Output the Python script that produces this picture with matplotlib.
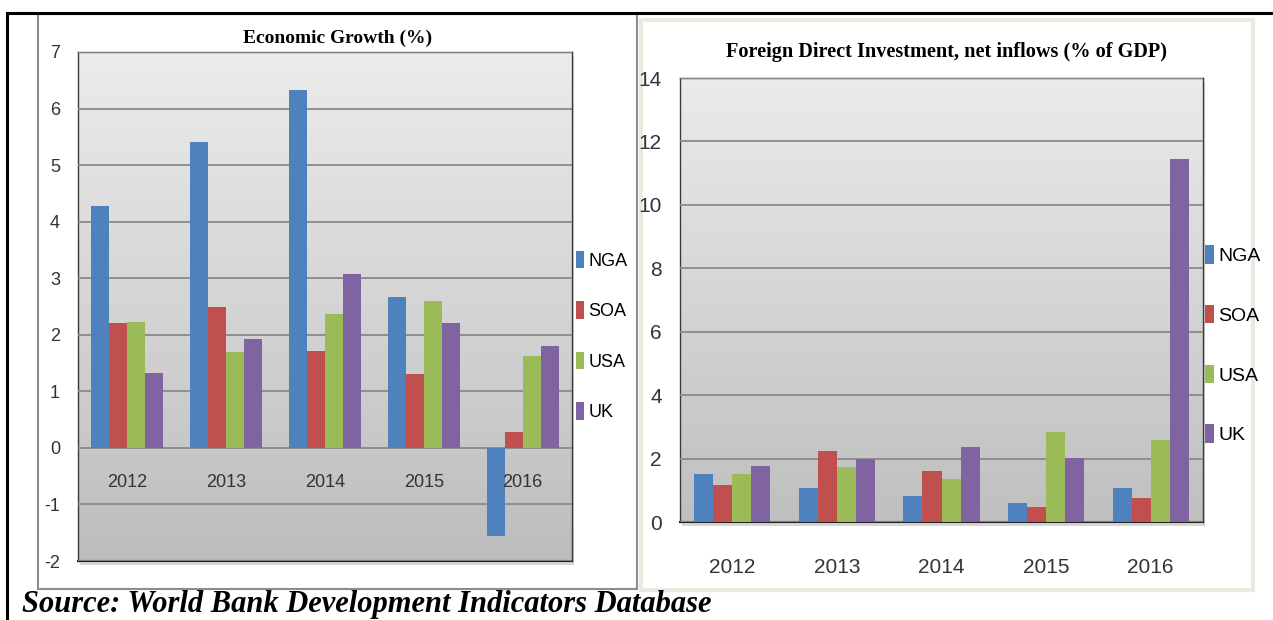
import numpy as np
import matplotlib
matplotlib.use("Agg")
import matplotlib.pyplot as plt
from matplotlib import font_manager
from matplotlib.patches import Rectangle
from matplotlib.lines import Line2D

# data
years = ["2012", "2013", "2014", "2015", "2016"]
countries = ["NGA", "SOA", "USA", "UK"]
colors = ["#4f81bd", "#c0504d", "#9bbb59", "#8064a2"]

growth_nga = [4.28, 5.40, 6.33, 2.66, -1.56]
growth_soa = [2.21, 2.50, 1.71, 1.30, 0.28]
growth_usa = [2.23, 1.69, 2.37, 2.59, 1.62]
growth_uk = [1.33, 1.92, 3.07, 2.21, 1.80]

fdi_nga = [1.52, 1.06, 0.81, 0.61, 1.06]
fdi_soa = [1.17, 2.23, 1.62, 0.46, 0.76]
fdi_usa = [1.52, 1.72, 1.36, 2.84, 2.58]
fdi_uk = [1.78, 1.99, 2.38, 2.02, 11.45]

W, H = 1273, 620
plt.rcParams["axes.unicode_minus"] = False

names = {f.name for f in font_manager.fontManager.ttflist}
if "Liberation Sans Narrow" in names:
    sans = "Liberation Sans Narrow"
elif "Liberation Sans" in names:
    sans = "Liberation Sans"
else:
    sans = "DejaVu Sans"
serif = "Liberation Serif" if "Liberation Serif" in names else "DejaVu Serif"


def fx(x):
    return x / W


def fy(y):
    return 1 - y / H


def box(x0, y0, x1, y1):
    # pixel box -> [left, bottom, width, height] in figure fraction
    return [fx(x0), fy(y1), (x1 - x0) / W, (y1 - y0) / H]


def gradient(ax, top, bottom):
    g = np.linspace(0, 1, 256).reshape(-1, 1)
    c0 = np.array(matplotlib.colors.to_rgb(top))
    c1 = np.array(matplotlib.colors.to_rgb(bottom))
    img = c0 + (c1 - c0) * g[:, :, None]
    ax.imshow(img, extent=[0, 1, 0, 1], transform=ax.transAxes,
              aspect="auto", zorder=0, interpolation="bilinear")


def bars(ax, series):
    x = np.arange(len(years))
    w = 0.182
    handles = []
    for i, (vals, c) in enumerate(zip(series, colors)):
        h = ax.bar(x + (i - 1.5) * w, vals, w, color=c, zorder=3,
                   edgecolor="none")
        handles.append(h)
    ax.set_xlim(-0.5, len(years) - 0.5)
    return handles


def style(ax, tick_size):
    ax.yaxis.grid(True, color="#8a8a8a", lw=1.3, zorder=1)
    ax.set_axisbelow(False)
    for s in ["top", "left", "right"]:
        ax.spines[s].set_color("#3a3a3a")
        ax.spines[s].set_linewidth(1.0)
    ax.spines["bottom"].set_color("#222222")
    ax.spines["bottom"].set_linewidth(1.5)
    ax.tick_params(length=0, labelsize=tick_size, colors="#333333")
    for lab in ax.get_yticklabels() + ax.get_xticklabels():
        lab.set_family(sans)


fig = plt.figure(figsize=(W / 100, H / 100), dpi=100)
fig.patch.set_facecolor("white")

# frames round the two charts
fig.add_artist(Rectangle((fx(38), fy(589)), (637 - 38) / W, (589 - 14) / H,
                         fill=False, ec="#8c8c8c", lw=1.5, zorder=-2))
fig.add_artist(Rectangle((fx(641), fy(590)), (1253 - 641) / W, (590 - 20) / H,
                         fill=False, ec="#ebe9df", lw=3, zorder=-2))
fig.add_artist(Line2D([fx(7), fx(1273)], [fy(13), fy(13)], color="black", lw=2.2))
fig.add_artist(Line2D([fx(7), fx(7)], [fy(13), fy(620)], color="black", lw=2.2))

# plot-area shadows
for x0, y0, x1, y1 in [(78, 52, 572, 561), (680, 78, 1203, 522)]:
    fig.add_artist(Rectangle((fx(x0 + 2), fy(y1 + 4)), (x1 - x0) / W, (y1 - y0) / H,
                             fc="#d6d6d6", ec="none", zorder=-1))

# ---- left chart: economic growth
ax1 = fig.add_axes(box(78, 52, 572, 561))
gradient(ax1, "#ececec", "#bdbdbd")
h1 = bars(ax1, [growth_nga, growth_soa, growth_usa, growth_uk])
ax1.set_ylim(-2, 7)
ax1.set_yticks(range(-2, 8))
ax1.set_xticks([])
style(ax1, 13)
ax1.tick_params(axis="y", pad=13)
for i, yr in enumerate(years):
    ax1.text(i, -0.62, yr, ha="center", va="center", fontsize=13,
             color="#333333", zorder=4, family=sans)
fig.text(fx(338), fy(38), "Economic Growth (%)", ha="center", va="center",
         fontsize=14, fontweight="bold", family=serif)
fig.legend(h1, countries, loc="upper left",
           bbox_to_anchor=(fx(576), fy(251)), frameon=False,
           handlelength=0.45, handleheight=1.1, handletextpad=0.25,
           labelspacing=1.75, borderpad=0, borderaxespad=0,
           prop=font_manager.FontProperties(size=13, family=sans))

# ---- right chart: FDI
ax2 = fig.add_axes(box(680, 78, 1203, 522))
gradient(ax2, "#ebebeb", "#bfbfbf")
h2 = bars(ax2, [fdi_nga, fdi_soa, fdi_usa, fdi_uk])
ax2.set_ylim(0, 14)
ax2.set_yticks(range(0, 15, 2))
ax2.set_xticks(range(len(years)))
ax2.set_xticklabels(years)
style(ax2, 15)
ax2.tick_params(axis="y", pad=13)
ax2.tick_params(axis="x", pad=26)
fig.text(fx(947), fy(52), "Foreign Direct Investment, net inflows (% of GDP)",
         ha="center", va="center", fontsize=14.6, fontweight="bold", family=serif)
fig.legend(h2, countries, loc="upper left",
           bbox_to_anchor=(fx(1205), fy(245)), frameon=False,
           handlelength=0.45, handleheight=1.1, handletextpad=0.25,
           labelspacing=2.05, borderpad=0, borderaxespad=0,
           prop=font_manager.FontProperties(size=14, family=sans))

fig.text(fx(22), fy(612), "Source: World Bank Development Indicators Database",
         ha="left", va="baseline", fontsize=22, fontweight="bold",
         fontstyle="italic", family=serif)

fig.savefig("out.png", dpi=100)
